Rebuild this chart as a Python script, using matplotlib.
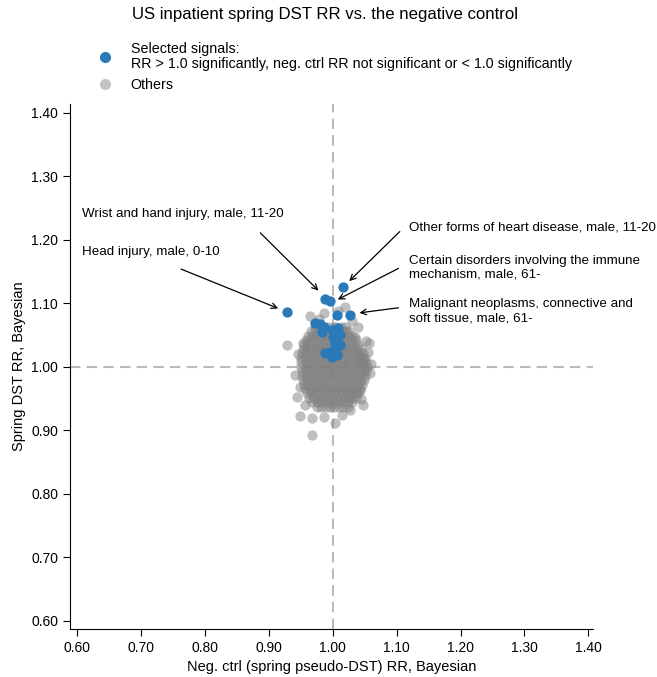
import matplotlib.pyplot as plt
from matplotlib.lines import Line2D

plt.rcParams["font.family"] = ["Liberation Sans", "DejaVu Sans"]

# Selected signals (neg. ctrl RR, spring DST RR)
signal_x = [1.017, 0.988, 0.996, 0.928, 1.007, 1.028, 0.973, 0.980, 0.986,
            0.983, 0.999, 1.009, 1.012, 1.001, 1.004, 1.012, 1.004, 0.988,
            0.996, 1.007, 0.999]
signal_y = [1.125, 1.107, 1.103, 1.086, 1.082, 1.082, 1.069, 1.068, 1.063,
            1.055, 1.058, 1.061, 1.050, 1.047, 1.037, 1.034, 1.026, 1.021,
            1.024, 1.018, 1.016]

# Other outcomes, stored row by row (spring DST RR, neg. ctrl RRs)
other_rows = [
    (1.063, [0.972, 0.979, 0.986, 0.993, 1.000, 1.006, 1.013, 1.020]),
    (1.056, [0.966, 0.973, 0.980, 0.987, 0.994, 1.001, 1.008, 1.015, 1.021, 1.026]),
    (1.049, [0.961, 0.968, 0.975, 0.982, 0.989, 0.996, 1.003, 1.010, 1.017, 1.024,
             1.031]),
    (1.042, [0.958, 0.965, 0.972, 0.979, 0.986, 0.993, 1.000, 1.007, 1.014, 1.021,
             1.029, 1.036]),
    (1.035, [0.955, 0.962, 0.969, 0.976, 0.983, 0.990, 0.997, 1.004, 1.011, 1.018,
             1.026, 1.033, 1.040]),
    (1.028, [0.953, 0.960, 0.967, 0.974, 0.981, 0.988, 0.995, 1.002, 1.009, 1.016,
             1.023, 1.030, 1.037, 1.044]),
    (1.021, [0.952, 0.959, 0.966, 0.973, 0.980, 0.987, 0.994, 1.001, 1.008, 1.015,
             1.022, 1.029, 1.036, 1.042, 1.048]),
    (1.014, [0.951, 0.958, 0.965, 0.972, 0.979, 0.986, 0.993, 1.000, 1.007, 1.014,
             1.021, 1.028, 1.035, 1.042, 1.048, 1.051]),
    (1.007, [0.951, 0.958, 0.965, 0.972, 0.979, 0.986, 0.993, 1.000, 1.007, 1.014,
             1.021, 1.028, 1.035, 1.042, 1.048, 1.053]),
    (1.000, [0.951, 0.958, 0.965, 0.972, 0.979, 0.986, 0.993, 1.000, 1.007, 1.014,
             1.021, 1.028, 1.035, 1.042, 1.049, 1.054]),
    (0.993, [0.952, 0.959, 0.966, 0.973, 0.980, 0.987, 0.994, 1.001, 1.008, 1.015,
             1.022, 1.029, 1.036, 1.043, 1.049, 1.053]),
    (0.986, [0.952, 0.959, 0.966, 0.973, 0.980, 0.987, 0.994, 1.001, 1.008, 1.015,
             1.022, 1.029, 1.036, 1.043, 1.051]),
    (0.979, [0.953, 0.960, 0.967, 0.974, 0.981, 0.988, 0.995, 1.002, 1.009, 1.016,
             1.023, 1.030, 1.037, 1.044, 1.049]),
    (0.972, [0.955, 0.962, 0.969, 0.976, 0.983, 0.990, 0.997, 1.004, 1.011, 1.018,
             1.025, 1.032, 1.039, 1.046]),
    (0.965, [0.957, 0.964, 0.971, 0.978, 0.985, 0.992, 0.999, 1.006, 1.013, 1.020,
             1.027, 1.034, 1.043]),
    (0.958, [0.960, 0.967, 0.974, 0.981, 0.988, 0.995, 1.002, 1.009, 1.016, 1.023,
             1.030, 1.036, 1.040]),
    (0.951, [0.963, 0.970, 0.977, 0.984, 0.991, 0.998, 1.005, 1.012, 1.019, 1.026,
             1.031, 1.036]),
    (0.944, [0.968, 0.975, 0.982, 0.989, 0.996, 1.003, 1.010, 1.017, 1.024, 1.031]),
    (0.937, [0.975, 0.982, 0.989, 0.996, 1.003, 1.010, 1.017, 1.024]),
]

# Scattered other outcomes around the main cloud
other_x = [0.928, 0.965, 0.986, 1.020, 1.039, 1.057, 1.052, 1.056, 0.941, 0.949,
           0.944, 1.043, 1.048, 0.957, 0.949, 0.968, 0.986, 1.004, 0.968, 1.027,
           1.014, 0.954, 1.035, 1.060, 1.058, 0.946, 0.978, 1.030, 1.008, 1.045]
other_y = [1.034, 1.080, 1.084, 1.095, 1.063, 1.037, 1.041, 1.024, 0.987, 0.968,
           0.953, 0.963, 0.940, 0.940, 0.922, 0.919, 0.921, 0.911, 0.892, 0.932,
           0.924, 1.037, 1.047, 1.005, 0.990, 1.020, 1.075, 1.072, 1.088, 0.950]

for row_y, row_xs in other_rows:
    other_x += row_xs
    other_y += [row_y] * len(row_xs)

# Labelled signals: text, text position, arrow start, arrow end
callout_text = [
    "Wrist and hand injury, male, 11-20",
    "Head injury, male, 0-10",
    "Other forms of heart disease, male, 11-20",
    "Certain disorders involving the immune\nmechanism, male, 61-",
    "Malignant neoplasms, connective and\nsoft tissue, male, 61-",
]
callout_pos = [(0.609, 1.241), (0.609, 1.181), (1.119, 1.220), (1.119, 1.156), (1.119, 1.088)]
arrow_start = [(0.887, 1.211), (0.763, 1.154), (1.105, 1.213), (1.103, 1.155), (1.103, 1.093)]
arrow_end = [(0.978, 1.120), (0.915, 1.092), (1.026, 1.135), (1.008, 1.106), (1.042, 1.085)]

blue = "#2a7ab9"

fig = plt.figure(figsize=(6.57, 6.77), dpi=100)
ax = fig.add_axes([0.1065, 0.0709, 0.796, 0.7755])

ax.axvline(1.0, color="#bbbbbb", linestyle=(0, (5, 3)), linewidth=1.5, zorder=0)
ax.axhline(1.0, color="#bbbbbb", linestyle=(0, (5, 3)), linewidth=1.5, zorder=0)

ax.scatter(other_x, other_y, s=55, color="gray", alpha=0.5, linewidths=0, zorder=2)
ax.scatter(signal_x, signal_y, s=55, color=blue, linewidths=0, zorder=3)

for txt, pos, start, end in zip(callout_text, callout_pos, arrow_start, arrow_end):
    ax.text(pos[0], pos[1], txt, fontsize=9.6, ha="left", va="center", linespacing=1.25)
    ax.annotate("", xy=end, xytext=start,
                arrowprops=dict(arrowstyle="->", color="black", lw=0.9,
                                shrinkA=0, shrinkB=0))

ax.set_xlim(0.5895, 1.407)
ax.set_ylim(0.587, 1.414)
ticks = [0.6, 0.7, 0.8, 0.9, 1.0, 1.1, 1.2, 1.3, 1.4]
ax.set_xticks(ticks)
ax.set_yticks(ticks)
ax.set_xticklabels([f"{t:.2f}" for t in ticks])
ax.set_yticklabels([f"{t:.2f}" for t in ticks])
ax.tick_params(labelsize=10, length=5, width=0.8)
for side in ["top", "right"]:
    ax.spines[side].set_visible(False)

ax.set_xlabel("Neg. ctrl (spring pseudo-DST) RR, Bayesian", fontsize=10.5)
ax.set_ylabel("Spring DST RR, Bayesian", fontsize=10.5)

fig.text(0.495, 0.978, "US inpatient spring DST RR vs. the negative control",
         ha="center", va="center", fontsize=12.1)

handles = [
    Line2D([], [], marker="o", linestyle="", color=blue, markersize=7),
    Line2D([], [], marker="o", linestyle="", color="#c4c4c4", markersize=7),
]
labels = [
    "Selected signals:\nRR > 1.0 significantly, neg. ctrl RR not significant or < 1.0 significantly",
    "Others",
]
leg = fig.legend(handles, labels, loc="upper left", bbox_to_anchor=(0.127, 0.957),
                 frameon=False, fontsize=10.3, handletextpad=1.2, labelspacing=0.55,
                 handlelength=1.2)
for t in leg.get_texts():
    t.set_linespacing(1.05)

fig.savefig("out.png", dpi=100)
